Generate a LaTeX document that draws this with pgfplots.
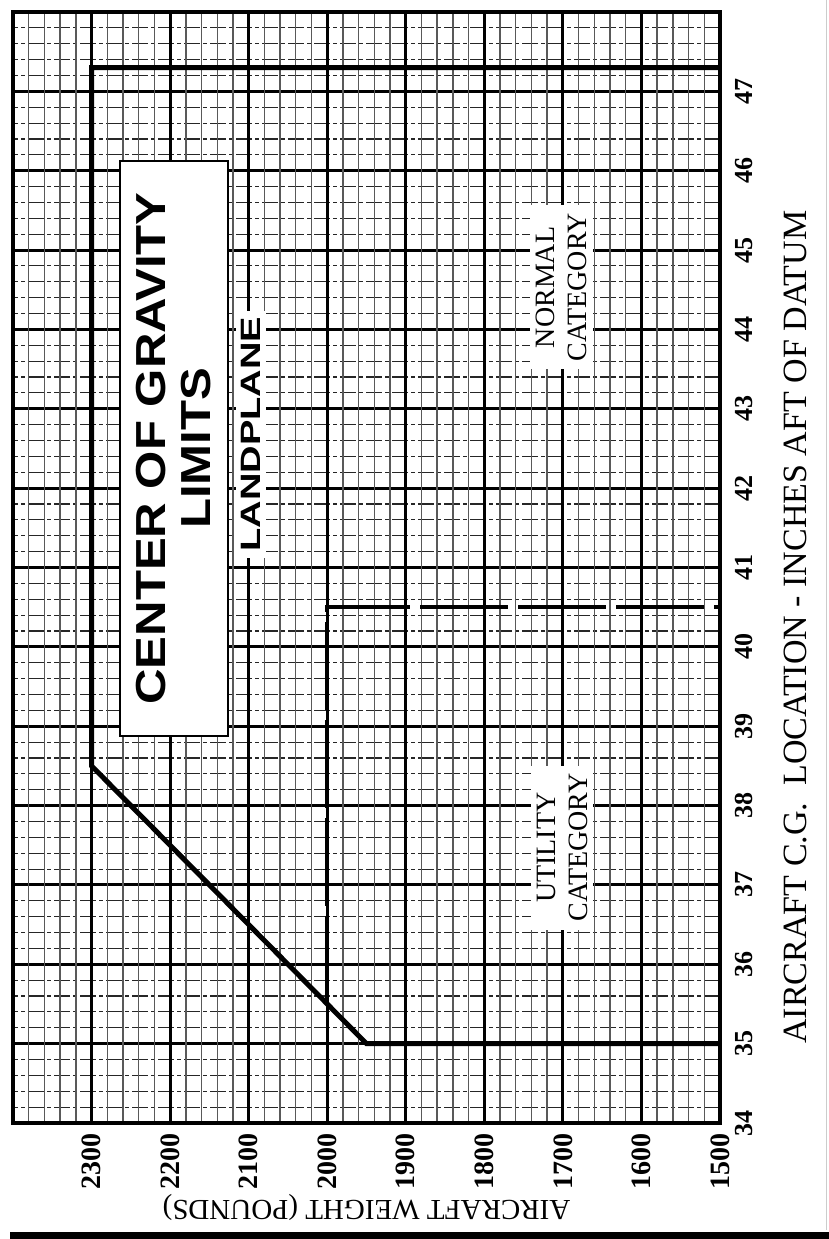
\documentclass[border=0pt]{standalone}
\usepackage{fontspec}
\setmainfont{Liberation Serif}
\setsansfont{Liberation Sans}
\usepackage{pgfplots}
\pgfplotsset{compat=1.18}
\begin{document}
\rotatebox{90}{%
\begin{tikzpicture}
\begin{axis}[
  at={(0,0)}, anchor=south west,
  width=1111pt, height=707pt, scale only axis,
  xmin=34, xmax=48, ymin=1500, ymax=2400,
  xtick={34,35,...,48},
  xticklabels={34,35,36,37,38,39,40,41,42,43,44,45,46,47,{}},
  ytick={1500,1600,...,2400},
  yticklabels={1500,1600,1700,1800,1900,2000,2100,2200,2300,{}},
  minor x tick num=4, minor y tick num=4,
  grid=both,
  major tick length=0pt, minor tick length=0pt,
  major grid style={black, line width=3pt},
  minor x grid style={black!85, line width=1.1pt, dash pattern=on 16pt off 3pt on 4pt off 3pt},
  minor y grid style={black!65, line width=1.4pt},
  axis line style={line width=3.2pt},
  xticklabel style={font=\fontsize{26}{26}\selectfont\bfseries, inner sep=0pt, anchor=north, yshift=-15pt},
  yticklabel style={font=\fontsize{28}{28}\selectfont\bfseries, inner sep=0pt, anchor=east, xshift=-10pt},
  xlabel={AIRCRAFT C.G.\ \ LOCATION - INCHES AFT OF DATUM},
  ylabel={AIRCRAFT WEIGHT (POUNDS)},
  xlabel style={font=\fontsize{34}{34}\selectfont, at={(axis description cs:0.4464,-0.1061)}, anchor=center},
  ylabel style={font=\fontsize{29}{29}\selectfont, at={(axis description cs:-0.0761,0.5)}, anchor=center},
  clip=false,
]
% normal category envelope
\addplot[black, line width=5pt, line join=miter] coordinates {(35,1500) (35,1950) (38.5,2300) (47.3,2300) (47.3,1500)};
% utility category limit
\addplot[black, line width=4.5pt, dash pattern=on 88pt off 10pt] coordinates {(35.5,2000) (40.5,2000) (40.5,1500)};

\node[draw, line width=2.8pt, fill=white, minimum width=575pt, minimum height=108pt, inner sep=0pt, align=center,
      font=\sffamily\bfseries\fontsize{42}{45}\selectfont] at (axis cs:42.5,2195)
      {\scalebox{1.17}[1]{CENTER OF GRAVITY}\\\scalebox{1.17}[1]{LIMITS}};
\node[fill=white, inner xsep=6pt, inner ysep=5pt, font=\sffamily\bfseries\fontsize{28}{28}\selectfont]
      at (axis cs:42.68,2097) {\scalebox{1.36}[1]{LANDPLANE}};
\node[fill=white, align=center, inner xsep=8pt, inner ysep=6pt, font=\fontsize{28}{32}\selectfont]
      at (axis cs:44.53,1702) {NORMAL\\CATEGORY};
\node[fill=white, align=center, inner xsep=8pt, inner ysep=6pt, font=\fontsize{28}{32}\selectfont]
      at (axis cs:37.47,1701) {UTILITY\\CATEGORY};
\end{axis}
\fill (-116pt,-109pt) rectangle (-109pt,710pt);
\draw[gray!40, line width=1pt] (-107pt,-106pt) -- (1123pt,-106pt);
\pgfresetboundingbox
\path[use as bounding box] (-116pt,-109pt) rectangle (1123pt,720pt);
\end{tikzpicture}}
\end{document}
